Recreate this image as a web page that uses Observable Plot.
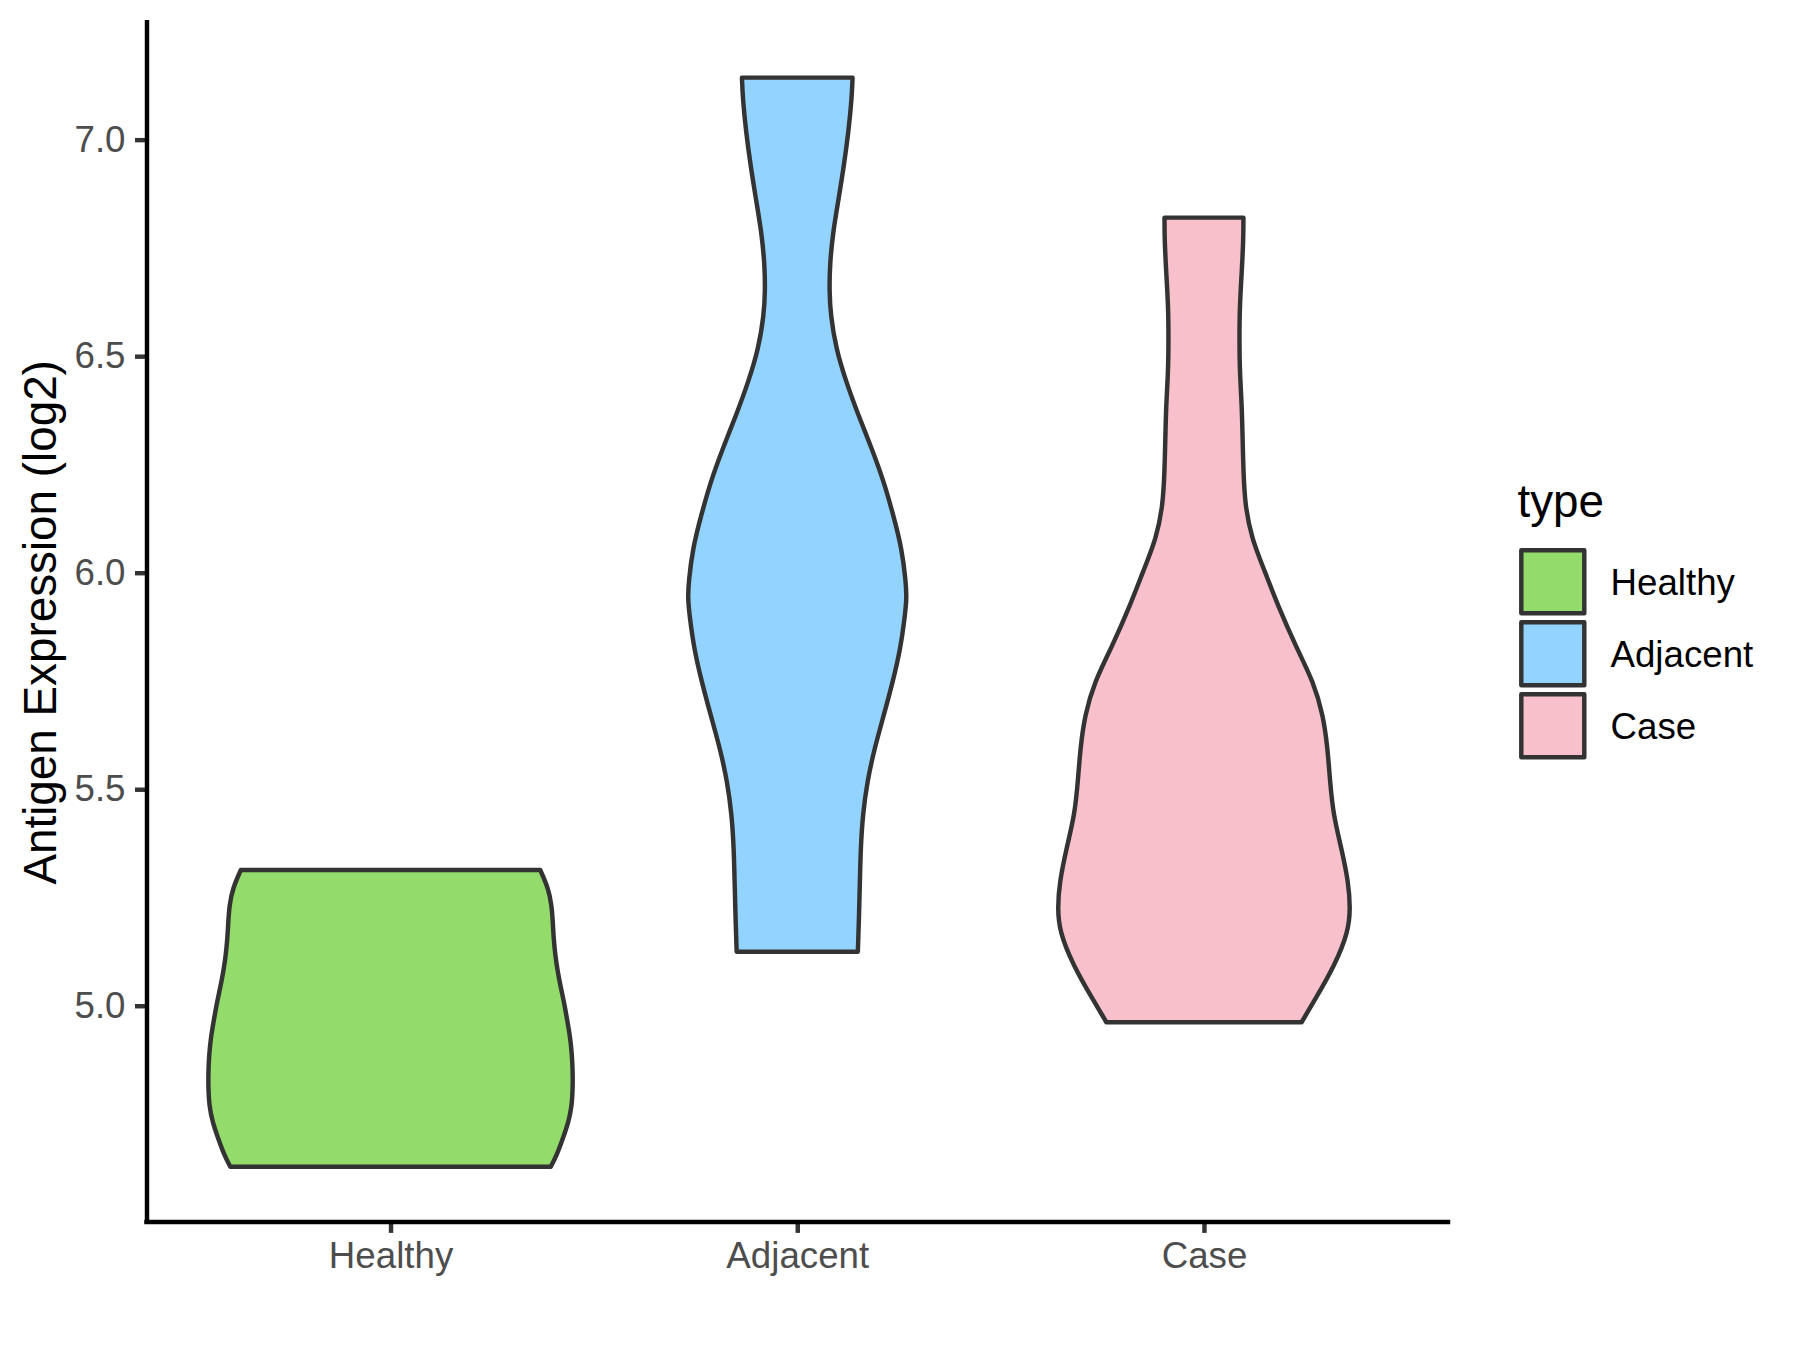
<!DOCTYPE html>
<html>
<head>
<meta charset="utf-8">
<script src="https://cdn.jsdelivr.net/npm/d3@7"></script>
<script src="https://cdn.jsdelivr.net/npm/@observablehq/plot@0.6"></script>
<style>
  html, body { margin: 0; padding: 0; background: #ffffff; }
  #wrap { position: relative; width: 1800px; height: 1350px; font-family: "Liberation Sans", Arial, sans-serif; }
  #chart { position: absolute; left: 0; top: 0; }
  #legend { position: absolute; left: 1450px; top: 450px; }
</style>
</head>
<body>
<div id="wrap"><div id="chart"></div><svg id="legend" width="350" height="350"></svg></div>
<script>
// ---- data ----
const categories = ["Healthy", "Adjacent", "Case"];
const fillColors = ["#93DB6A", "#92D3FF", "#F7C0CB"];
const yTicks = [5.0, 5.5, 6.0, 6.5, 7.0];
const yDomain = [4.502, 7.271];
const xDomain = [0.4, 3.6];
const yTitle = "Antigen Expression (log2)";
const legendTitle = "type";

// violin outlines: expression value and half-width (in category units)
const healthyValue = [5.3136, 5.2713, 5.2328, 5.1942, 5.1558, 5.1173, 5.0788, 5.0404, 5.0018, 4.9633, 4.9249, 4.8864, 4.8478, 4.8095, 4.7710, 4.7324, 4.6940, 4.6554, 4.6284];
const healthyHalfWidth = [0.368, 0.388, 0.396, 0.399, 0.401, 0.405, 0.411, 0.419, 0.428, 0.435, 0.442, 0.446, 0.448, 0.448, 0.446, 0.438, 0.424, 0.409, 0.394];

const adjacentValue = [7.1432, 7.0956, 7.0185, 6.9416, 6.8647, 6.7876, 6.7107, 6.6490, 6.5952, 6.5183, 6.4412, 6.3643, 6.2874, 6.2103, 6.1334, 6.0565, 5.9793, 5.9410, 5.9024, 5.8255, 5.7484, 5.6715, 5.5946, 5.5175, 5.4406, 5.3637, 5.2866, 5.2097, 5.1249];
const adjacentHalfWidth = [0.136, 0.134, 0.126, 0.115, 0.102, 0.088, 0.080, 0.079, 0.082, 0.095, 0.120, 0.150, 0.183, 0.213, 0.236, 0.257, 0.267, 0.269, 0.265, 0.254, 0.235, 0.213, 0.190, 0.172, 0.161, 0.156, 0.154, 0.152, 0.149];

const caseValue = [6.8199, 6.7723, 6.6952, 6.6183, 6.5414, 6.4643, 6.3874, 6.3105, 6.2333, 6.1564, 6.0795, 6.0024, 5.9255, 5.8255, 5.7484, 5.6715, 5.5946, 5.5175, 5.4406, 5.3637, 5.2866, 5.2251, 5.1711, 5.0942, 5.0173, 4.9619];
const caseHalfWidth = [0.097, 0.097, 0.093, 0.088, 0.087, 0.088, 0.093, 0.095, 0.097, 0.101, 0.117, 0.150, 0.181, 0.228, 0.269, 0.293, 0.304, 0.310, 0.318, 0.338, 0.355, 0.360, 0.355, 0.322, 0.275, 0.240];

// ---- build table ----
const groups = [
  {type: "Healthy", value: healthyValue, hw: healthyHalfWidth},
  {type: "Adjacent", value: adjacentValue, hw: adjacentHalfWidth},
  {type: "Case", value: caseValue, hw: caseHalfWidth}
];
const rows = [];
groups.forEach(g => {
  const pos = categories.indexOf(g.type) + 1;
  const pts = g.value.map((v, i) => ({type: g.type, pos, y: v, hw: g.hw[i]}));
  pts.sort((a, b) => a.y - b.y);
  rows.push(...pts);
});

const FONT = "\"Liberation Sans\", Arial, sans-serif";
const LW = 4.45;

const chart = Plot.plot({
  width: 1800,
  height: 1350,
  marginLeft: 146.5,
  marginRight: 352,
  marginTop: 22.3,
  marginBottom: 128.6,
  style: {fontFamily: FONT, background: "#ffffff", overflow: "visible"},
  x: {type: "linear", domain: xDomain},
  y: {type: "linear", domain: yDomain},
  color: {type: "ordinal", domain: categories, range: fillColors},
  marks: [
    Plot.areaX(rows, {
      y: "y",
      x1: d => d.pos - d.hw,
      x2: d => d.pos + d.hw,
      z: "type",
      fill: "type",
      stroke: "#333333",
      strokeWidth: LW,
      strokeLinejoin: "round",
      curve: "basis"
    }),
    Plot.axisY({
      ticks: yTicks,
      tickFormat: d3.format(".1f"),
      tickSize: 11.5,
      tickPadding: 10,
      stroke: "#333333",
      strokeWidth: LW,
      fill: "#4D4D4D",
      fontSize: 36.7,
      label: null
    }),
    Plot.axisX({
      ticks: categories.map((c, i) => i + 1),
      tickFormat: d => categories[d - 1],
      tickSize: 11.5,
      tickPadding: 8.5,
      stroke: "#333333",
      strokeWidth: LW,
      fill: "#4D4D4D",
      fontSize: 36.7,
      label: null
    }),
    Plot.ruleX([xDomain[0]], {stroke: "#000000", strokeWidth: LW, strokeLinecap: "square"}),
    Plot.ruleY([yDomain[0]], {stroke: "#000000", strokeWidth: LW, strokeLinecap: "square"}),
    Plot.text([yTitle], {
      text: d => d,
      frameAnchor: "left",
      rotate: -90,
      dx: -91.5,
      textAnchor: "middle",
      lineAnchor: "bottom",
      fontSize: 45.8,
      fill: "#000000"
    })
  ]
});
document.getElementById("chart").appendChild(chart);

// ---- legend ----
const leg = d3.select("#legend").style("font-family", FONT);
leg.append("text").attr("x", 67.5).attr("y", 66.7)
  .attr("font-size", 45.8).attr("fill", "#000").text(legendTitle);
categories.forEach((c, i) => {
  const cy = 131.7 + i * 72;
  leg.append("rect").attr("x", 102.8 - 31.5).attr("y", cy - 31.5)
    .attr("width", 63).attr("height", 63)
    .attr("fill", fillColors[i]).attr("stroke", "#333333")
    .attr("stroke-width", LW).attr("stroke-linejoin", "round");
  leg.append("text").attr("x", 160.5).attr("y", cy + 13.2)
    .attr("font-size", 36.7).attr("fill", "#000").text(c);
});
</script>
</body>
</html>
